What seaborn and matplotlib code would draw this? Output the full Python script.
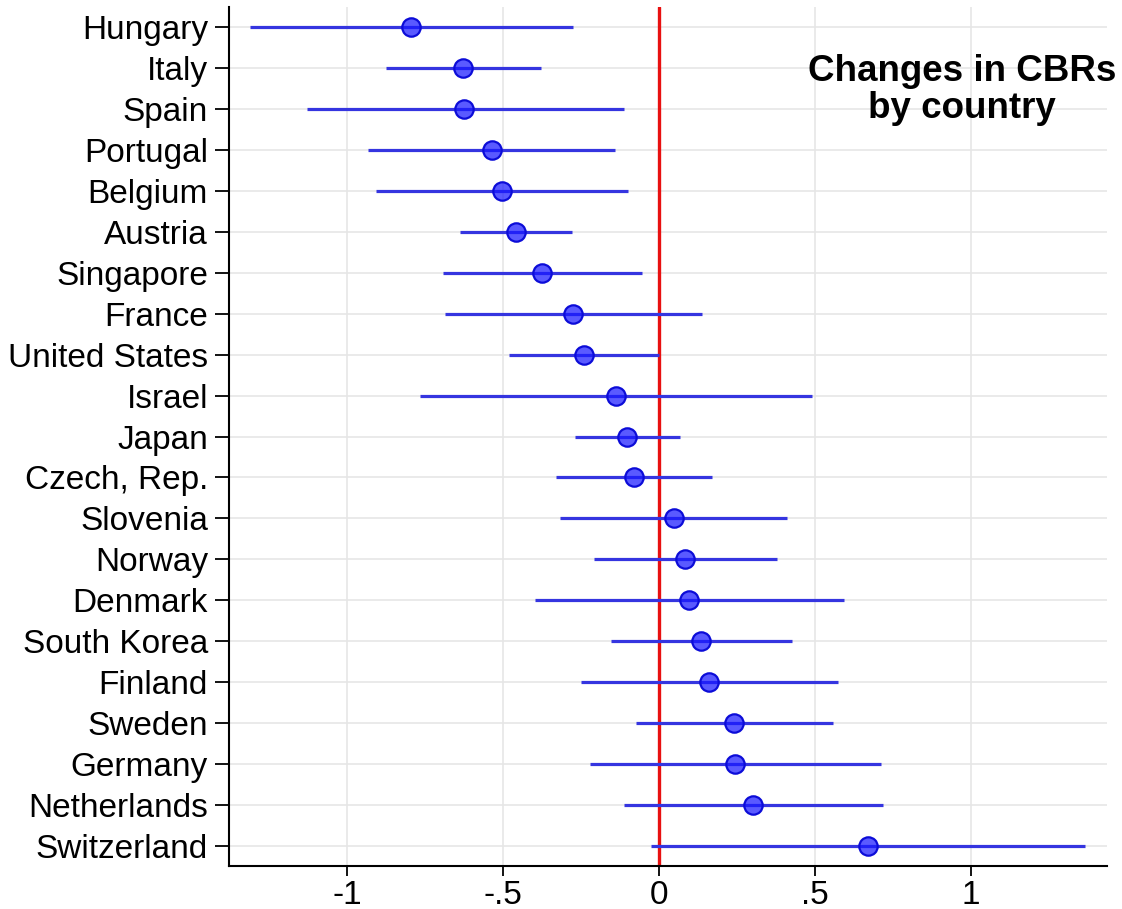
import numpy as np
import pandas as pd
import matplotlib
matplotlib.use("Agg")
import matplotlib.pyplot as plt
import seaborn as sns

countries = ["Hungary", "Italy", "Spain", "Portugal", "Belgium", "Austria", "Singapore",
             "France", "United States", "Israel", "Japan", "Czech, Rep.", "Slovenia",
             "Norway", "Denmark", "South Korea", "Finland", "Sweden", "Germany",
             "Netherlands", "Switzerland"]
estimate = [-0.794, -0.628, -0.624, -0.537, -0.504, -0.459, -0.375,
            -0.276, -0.240, -0.138, -0.104, -0.080, 0.046,
            0.083, 0.096, 0.135, 0.161, 0.241, 0.243,
            0.300, 0.668]
ci_low = [-1.310, -0.874, -1.130, -0.932, -0.906, -0.639, -0.692,
          -0.685, -0.481, -0.767, -0.270, -0.330, -0.319,
          -0.208, -0.397, -0.156, -0.251, -0.073, -0.222,
          -0.114, -0.027]
ci_high = [-0.276, -0.379, -0.114, -0.142, -0.101, -0.278, -0.054,
           0.136, 0.000, 0.490, 0.066, 0.169, 0.410,
           0.379, 0.591, 0.427, 0.574, 0.557, 0.711,
           0.716, 1.365]
x_ticks = [-1, -0.5, 0, 0.5, 1]
x_tick_labels = ["-1", "-.5", "0", ".5", "1"]
title = "Changes in CBRs\nby country"

df = pd.DataFrame({"country": countries, "est": estimate, "lo": ci_low, "hi": ci_high})
df["pos"] = np.arange(len(df))

sns.set_theme(style="white")
plt.rcParams["font.family"] = ["Liberation Sans", "DejaVu Sans"]
plt.rcParams["text.color"] = "black"
plt.rcParams["xtick.color"] = "black"
plt.rcParams["ytick.color"] = "black"

fig = plt.figure(figsize=(11.22, 9.09), dpi=100)
ax = fig.add_axes([0.204, 0.0473, 0.7826, 0.945])

# grid
for xt in x_ticks:
    ax.axvline(xt, color="#e6e6e6", lw=1.2, zorder=0)
for p in df["pos"]:
    ax.axhline(p, color="#e6e6e6", lw=1.2, zorder=0)

ax.axvline(0, color="#e81010", lw=2.4, zorder=2)

ax.hlines(df["pos"], df["lo"], df["hi"], color="#3535e0", lw=2.3, zorder=3)
sns.scatterplot(data=df, x="est", y="pos", ax=ax, s=175,
                color=(0.1, 0.1, 1.0, 0.72), edgecolor="#0c0cd8",
                linewidth=1.6, zorder=4, legend=False)

ax.set_xlim(-1.379, 1.435)
ax.set_ylim(len(df) - 0.5, -0.5)
ax.set_yticks(df["pos"])
ax.set_yticklabels(df["country"])
ax.set_xticks(x_ticks)
ax.set_xticklabels(x_tick_labels)
ax.set_xlabel("")
ax.set_ylabel("")

ax.tick_params(axis="y", length=10, width=1.3, color="black", labelcolor="black",
               labelsize=24, pad=5, direction="out", left=True)
ax.tick_params(axis="x", length=7, width=1.3, color="black", labelcolor="black",
               labelsize=24, pad=3, direction="out", bottom=True)

for side in ["top", "right"]:
    ax.spines[side].set_visible(False)
for side in ["left", "bottom"]:
    ax.spines[side].set_color("black")
    ax.spines[side].set_linewidth(1.5)

fig.text(962 / 1122, 1 - 90 / 909, title, ha="center", va="center",
         fontsize=26.5, fontweight="bold", linespacing=1.1, color="black")

fig.savefig("out.png", dpi=100)
